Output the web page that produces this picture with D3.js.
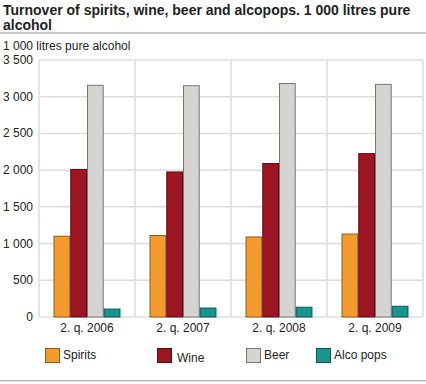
<!DOCTYPE html>
<html>
<head>
<meta charset="utf-8">
<script src="https://cdn.jsdelivr.net/npm/d3@7"></script>
<style>
  body { margin: 0; background: #fff; }
  svg { font-family: "Liberation Sans", Arial, sans-serif; }
</style>
</head>
<body>
<div id="chart"></div>
<script>
// data
const periods = ["2. q. 2006", "2. q. 2007", "2. q. 2008", "2. q. 2009"];
const seriesNames = ["Spirits", "Wine", "Beer", "Alco pops"];
const spirits = [1100, 1110, 1090, 1130];
const wine = [2010, 1975, 2090, 2225];
const beer = [3155, 3150, 3180, 3168];
const alcopops = [108, 122, 133, 146];
const yTicks = [0, 500, 1000, 1500, 2000, 2500, 3000, 3500];

const fills = ["#f39c2d", "#9c1520", "#d5d4d0", "#19958f"];
const strokes = ["#8a5a20", "#5a0c12", "#777", "#0d5552"];

const width = 426, height = 384;
const margin = {left: 39, right: 3, top: 60, bottom: 67};

const svg = d3.select("#chart").append("svg")
  .attr("width", width)
  .attr("height", height);

// title
const title = svg.append("text")
  .attr("font-weight", "bold")
  .attr("font-size", 14)
  .attr("fill", "#222");
title.append("tspan").attr("x", 3).attr("y", 15)
  .text("Turnover of spirits, wine, beer and alcopops. 1 000 litres pure");
title.append("tspan").attr("x", 3).attr("y", 30).text("alcohol");

svg.append("rect").attr("x", 0).attr("y", 32).attr("width", width).attr("height", 2).attr("fill", "#ccc");

svg.append("text").attr("x", 3).attr("y", 50)
  .attr("font-size", 12).attr("fill", "#222")
  .text("1 000 litres pure alcohol");

const x = d3.scaleBand()
  .domain(periods)
  .range([margin.left, width - margin.right]);

const y = d3.scaleLinear()
  .domain([0, 3500])
  .range([height - margin.bottom, margin.top]);

const inner = d3.scaleBand()
  .domain(seriesNames)
  .range([0, x.bandwidth()])
  .paddingOuter(0.87);

// grid
svg.append("g").selectAll("line")
  .data(yTicks)
  .join("line")
  .attr("x1", margin.left).attr("x2", width - margin.right)
  .attr("y1", d => y(d)).attr("y2", d => y(d))
  .attr("stroke", "#dcdcdc").attr("stroke-width", 1.5);

svg.append("g").selectAll("line")
  .data(periods)
  .join("line")
  .attr("x1", d => x(d)).attr("x2", d => x(d))
  .attr("y1", y(3500)).attr("y2", y(0))
  .attr("stroke", "#dcdcdc").attr("stroke-width", 1.5);

svg.append("line")
  .attr("x1", width - margin.right).attr("x2", width - margin.right)
  .attr("y1", y(3500)).attr("y2", y(0))
  .attr("stroke", "#dcdcdc").attr("stroke-width", 1.5);

// y tick labels
svg.append("g").selectAll("text")
  .data(yTicks)
  .join("text")
  .attr("x", 33)
  .attr("y", d => y(d) + 4)
  .attr("text-anchor", "end")
  .attr("font-size", 12)
  .attr("fill", "#222")
  .text(d => d3.format(",")(d).replace(",", " "));

// bars
const values = [spirits, wine, beer, alcopops];
seriesNames.forEach((name, si) => {
  svg.append("g").selectAll("rect")
    .data(periods.map((p, i) => ({p, v: values[si][i]})))
    .join("rect")
    .attr("x", d => x(d.p) + inner(name) + 0.5)
    .attr("y", d => y(d.v))
    .attr("width", inner.bandwidth() - 1)
    .attr("height", d => y(0) - y(d.v))
    .attr("fill", fills[si])
    .attr("stroke", strokes[si])
    .attr("stroke-width", 1);
});

// x labels
svg.append("g").selectAll("text")
  .data(periods)
  .join("text")
  .attr("x", d => x(d) + x.bandwidth() / 2)
  .attr("y", 332)
  .attr("text-anchor", "middle")
  .attr("font-size", 12)
  .attr("fill", "#222")
  .text(d => d);

// legend
const legendX = [45, 157, 246, 316];
const legend = svg.append("g").selectAll("g")
  .data(seriesNames)
  .join("g")
  .attr("transform", (d, i) => `translate(${legendX[i]},348)`);
legend.append("rect")
  .attr("x", 0.5).attr("y", 0.5)
  .attr("width", 14).attr("height", 14)
  .attr("fill", (d, i) => fills[i])
  .attr("stroke", (d, i) => strokes[i]);
legend.append("text")
  .attr("x", (d, i) => i == 1 ? 20 : 18)
  .attr("y", (d, i) => i == 1 ? 14 : 11)
  .attr("font-size", 12)
  .attr("fill", "#222")
  .text(d => d);

svg.append("rect").attr("x", 0).attr("y", 380).attr("width", width).attr("height", 1.5).attr("fill", "#bbb");
</script>
</body>
</html>
